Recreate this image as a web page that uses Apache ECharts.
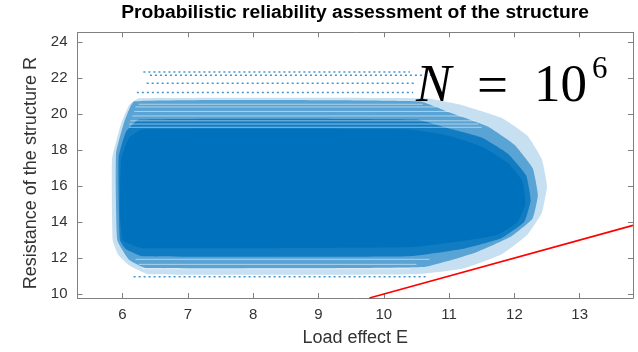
<!DOCTYPE html>
<html>
<head>
<meta charset="utf-8">
<script src="https://cdn.jsdelivr.net/npm/echarts@6/dist/echarts.min.js"></script>
<style>
html,body{margin:0;padding:0;background:#fff;}
#chart{width:638px;height:352px;}
</style>
</head>
<body>
<div id="chart"></div>
<script>
// ---- data ----
const xTicks = [6, 7, 8, 9, 10, 11, 12, 13];
const yTicks = [10, 12, 14, 16, 18, 20, 22, 24];
const xRange = [5.311, 13.816];
const yRange = [9.78, 24.55];

// limit state line R = E
const limitE = [9.78, 13.816];
const limitR = [9.78, 13.816];

// cloud outlines (E, R) – sparse fringe, speckled band, upper core, solid core
const cloudFringe = [[5.85,13.0],[5.84,17.5],[5.98,19.5],[6.1,20.5],[6.25,20.88],[10.65,20.88],[11.2,20.5],[11.8,19.8],[12.2,18.8],[12.42,17.5],[12.5,16.0],[12.42,14.5],[12.2,13.3],[11.8,12.2],[11.2,11.4],[10.5,11.1],[6.4,11.1],[6.1,11.6],[5.93,12.2]];
const cloudBand = [[5.92,13.0],[5.9,17.8],[6.03,19.6],[6.18,20.72],[10.55,20.72],[11.0,20.1],[11.6,19.3],[12.0,18.3],[12.28,17.0],[12.36,15.5],[12.28,14.2],[11.95,13.2],[11.4,12.3],[10.6,11.5],[6.35,11.45],[6.1,11.9]];
const cloudUpper = [[5.96,13.0],[5.94,17.6],[6.05,19.0],[6.25,19.7],[10.5,19.7],[11.0,19.2],[11.5,18.7],[11.9,17.8],[12.18,16.6],[12.25,15.2],[12.15,14.0],[11.8,13.1],[11.2,12.5],[10.4,12.1],[6.3,12.1],[6.05,12.5]];
const cloudCore = [[6.0,13.0],[5.96,14.5],[5.98,17.5],[6.1,18.7],[6.3,19.15],[10.4,19.15],[11.0,18.8],[11.5,18.2],[11.9,17.3],[12.12,16.3],[12.17,15.0],[12.05,14.0],[11.75,13.3],[11.2,12.95],[10.4,12.6],[6.3,12.55],[6.1,12.8]];

// sparse horizontal streaks of points (R level, E start, E end)
const streakR    = [22.34, 22.16, 21.72, 21.21, 10.96];
const streakFrom = [6.32, 6.42, 6.37, 6.22, 6.17];
const streakTo   = [10.40, 10.75, 10.50, 10.45, 10.67];

// light gaps inside the speckled bands (R level, E start, E end)
const gapR    = [20.55, 20.40, 20.15, 19.90, 19.63, 19.45, 19.27, 11.93, 11.65, 11.40];
const gapFrom = [6.25, 6.20, 6.18, 6.15, 6.12, 6.10, 6.10, 6.20, 6.25, 6.30];
const gapTo   = [10.60, 10.80, 11.00, 11.20, 11.40, 11.45, 11.50, 10.70, 10.50, 10.40];

const blue = '#0072BD';
const chart = echarts.init(document.getElementById('chart'));

function polySeries(pts, opacity, z) {
  return {
    type: 'custom',
    coordinateSystem: 'cartesian2d',
    data: [[pts[0][0], pts[0][1]]],
    silent: true,
    z: z,
    renderItem: function (params, api) {
      const points = pts.map(p => api.coord(p));
      return {
        type: 'polygon',
        shape: { points: points, smooth: 0.12 },
        style: { fill: blue, opacity: opacity }
      };
    }
  };
}

const series = [
  polySeries(cloudFringe, 0.22, 1),
  polySeries(cloudBand, 0.55, 2),
  polySeries(cloudUpper, 0.8, 3),
  polySeries(cloudCore, 1, 4)
];
streakR.forEach((r, i) => {
  series.push({
    type: 'line', silent: true, symbol: 'none', z: 5,
    data: [[streakFrom[i], r], [streakTo[i], r]],
    lineStyle: { color: blue, width: 1.5, type: [2, 3], opacity: 0.75 }
  });
});
gapR.forEach((r, i) => {
  series.push({
    type: 'line', silent: true, symbol: 'none', z: 6,
    data: [[gapFrom[i], r], [gapTo[i], r]],
    lineStyle: { color: '#ffffff', width: 1, opacity: 0.5 }
  });
});
series.push({
  type: 'line', silent: true, symbol: 'none', z: 7,
  data: [[limitE[0], limitR[0]], [limitE[1], limitR[1]]],
  lineStyle: { color: '#ff0000', width: 1.6 }
});

const axisCol = '#808080';
const labCol = '#333333';
const font = 'Liberation Sans, Arial, Helvetica, sans-serif';
const serif = 'Liberation Serif, DejaVu Serif, serif';

chart.setOption({
  animation: false,
  backgroundColor: '#ffffff',
  grid: { left: 77.5, right: 5, top: 32.3, bottom: 51.3, containLabel: false },
  xAxis: [{
    type: 'value', min: xRange[0], max: xRange[1], position: 'bottom',
    axisLine: { show: true, lineStyle: { color: axisCol, width: 1 } },
    axisTick: { show: true, inside: true, length: 5, customValues: xTicks, lineStyle: { color: axisCol } },
    axisLabel: { customValues: xTicks, fontFamily: font, fontSize: 15, color: labCol, margin: 9 },
    splitLine: { show: false },
    name: 'Load effect E', nameLocation: 'middle', nameGap: 31,
    nameTextStyle: { fontFamily: font, fontSize: 18, color: labCol }
  }, {
    type: 'value', min: xRange[0], max: xRange[1], position: 'top',
    axisLine: { show: true, lineStyle: { color: axisCol, width: 1 } },
    axisTick: { show: true, inside: true, length: 5, customValues: xTicks, lineStyle: { color: axisCol } },
    axisLabel: { show: false }, splitLine: { show: false }
  }],
  yAxis: [{
    type: 'value', min: yRange[0], max: yRange[1], position: 'left',
    axisLine: { show: true, lineStyle: { color: axisCol, width: 1 } },
    axisTick: { show: true, inside: true, length: 5, customValues: yTicks, lineStyle: { color: axisCol } },
    axisLabel: { customValues: yTicks, fontFamily: font, fontSize: 15, color: labCol, margin: 10 },
    splitLine: { show: false },
    name: 'Resistance of the structure R', nameLocation: 'middle', nameGap: 30, nameRotate: 90,
    nameTextStyle: { fontFamily: font, fontSize: 18, color: labCol, padding: [0, 16, 0, 0] }
  }, {
    type: 'value', min: yRange[0], max: yRange[1], position: 'right',
    axisLine: { show: true, lineStyle: { color: axisCol, width: 1 } },
    axisTick: { show: true, inside: true, length: 5, customValues: yTicks, lineStyle: { color: axisCol } },
    axisLabel: { show: false }, splitLine: { show: false }
  }],
  graphic: [{
    type: 'text', x: 355, y: 4, scaleX: 1.07, z: 100,
    style: {
      text: 'Probabilistic reliability assessment of the structure',
      fontFamily: font, fontWeight: 'bold', fontSize: 18, fill: '#000',
      align: 'center', verticalAlign: 'top'
    }
  }, {
    type: 'text', x: 416, y: 61, z: 100,
    style: { text: 'N', fontFamily: serif, fontStyle: 'italic', fontSize: 53, fill: '#000' }
  }, {
    type: 'text', x: 477, y: 61, z: 100,
    style: { text: '=', fontFamily: serif, fontSize: 55, fill: '#000' }
  }, {
    type: 'text', x: 534, y: 61, z: 100,
    style: { text: '10', fontFamily: serif, fontSize: 53, fill: '#000' }
  }, {
    type: 'text', x: 592, y: 54, z: 100,
    style: { text: '6', fontFamily: serif, fontSize: 31, fill: '#000' }
  }],
  series: series
});
</script>
</body>
</html>
